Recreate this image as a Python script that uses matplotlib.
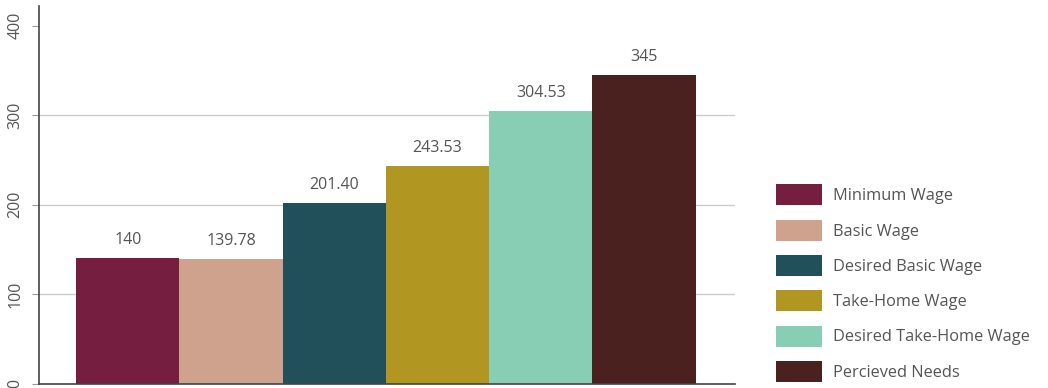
import matplotlib
matplotlib.use("Agg")
import matplotlib.pyplot as plt
from matplotlib.patches import Patch

# data
categories = ['Minimum Wage', 'Basic Wage', 'Desired Basic Wage',
              'Take-Home Wage', 'Desired Take-Home Wage', 'Percieved Needs']
values = [140, 139.78, 201.40, 243.53, 304.53, 345]
value_labels = ['140', '139.78', '201.40', '243.53', '304.53', '345']
colors = ['#761E40', '#CFA28E', '#22505A', '#B19622', '#88CEB4', '#4A211F']
yticks = [0, 100, 200, 300, 400]

plt.rcParams['font.family'] = ['Open Sans', 'DejaVu Sans']
text_color = '#555555'

fig = plt.figure(figsize=(10.48, 3.88), dpi=100)
ax = fig.add_axes([0.0372, 0.011, 0.664, 0.974])

x = list(range(len(values)))
ax.bar(x, values, width=1.0, color=colors, zorder=2)
for xi, v, lab in zip(x, values, value_labels):
    ax.text(xi, v + 20, lab, ha='center', va='center',
            fontsize=11.5, color=text_color)

ax.set_xlim(-0.86, 5.88)
ax.set_ylim(0, 422)
ax.set_xticks([])
ax.set_yticks(yticks)
ax.set_yticklabels([str(t) for t in yticks], rotation=90, va='center',
                   fontsize=11.5, color=text_color)
ax.tick_params(axis='y', length=5, color='#999999', pad=6)

ax.grid(axis='y', color='#cccccc', linewidth=1, zorder=0)
gl = ax.get_ygridlines()
gl[0].set_visible(False)
gl[-1].set_visible(False)

for s in ['top', 'right']:
    ax.spines[s].set_visible(False)
ax.spines['left'].set_color('#444444')
ax.spines['bottom'].set_color('#444444')
ax.spines['left'].set_linewidth(1.2)
ax.spines['bottom'].set_linewidth(1.2)

handles = [Patch(facecolor=c, edgecolor='none') for c in colors]
fig.legend(handles, categories, loc='upper left',
           bbox_to_anchor=(0.7405, 0.525), frameon=False,
           fontsize=11.8, labelcolor=text_color,
           handlelength=2.8, handleheight=1.6, handletextpad=0.65,
           labelspacing=0.87, borderaxespad=0, borderpad=0)

fig.savefig('out.png', dpi=100)
